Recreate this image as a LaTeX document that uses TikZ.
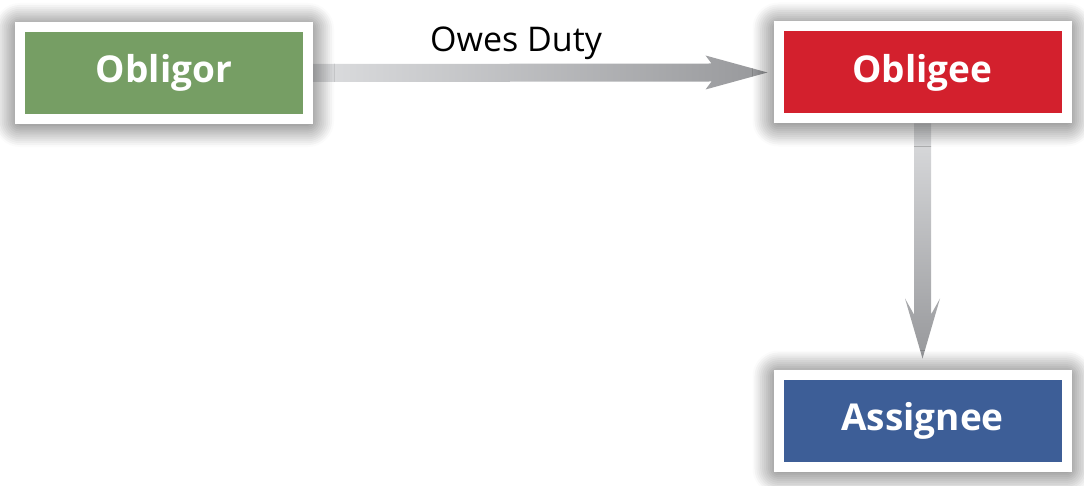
\documentclass[tikz,border=0pt]{standalone}
\usepackage{fontspec}
\setmainfont{Open Sans}
\usetikzlibrary{arrows.meta, positioning, calc, shadows.blur}
\pgfdeclarelayer{background}
\pgfsetlayers{background,main}

\definecolor{obligorgreen}{HTML}{769E64}
\definecolor{obligeered}{HTML}{D3202D}
\definecolor{assigneeblue}{HTML}{3D5E97}
\definecolor{arrowlight}{HTML}{DCDDDF}
\definecolor{arrowdark}{HTML}{97989B}

\begin{document}
\begin{tikzpicture}[
      % Node styles
      party/.style={
          rectangle, draw=white, line width=10pt,
          minimum width=288pt, minimum height=92pt, inner sep=0pt,
          text=white, font=\fontsize{37}{44}\bfseries\selectfont,
          blur shadow={shadow xshift=0pt, shadow yshift=-2pt,
                       shadow blur radius=26pt, shadow opacity=85,
                       shadow blur steps=14},
        },
      % Arrow fills
      arrow shade h/.style={left color=arrowlight, right color=arrowdark},
      arrow shade v/.style={top color=arrowlight, bottom color=arrowdark},
    ]
    \useasboundingbox (0,0) rectangle (1084pt,-486pt);

    \node[party, fill=obligorgreen] (obligor) at (164pt,-73pt) {Obligor};
    \node[party, fill=obligeered] (obligee) at (922.5pt,-72.5pt) {Obligee};
    \node[party, fill=assigneeblue] (assignee) at (922.5pt,-420.5pt) {Assignee};

    % --- Arrows, kept under the shadows ---
    \begin{pgfonlayer}{background}
      \shade[arrow shade h]
        ([yshift=9pt]obligor.east)
        -- ([xshift=-62pt,yshift=9pt]obligee.west)
        -- ([xshift=-68pt,yshift=17pt]obligee.west)
        -- ([xshift=-6pt]obligee.west)
        -- ([xshift=-68pt,yshift=-17pt]obligee.west)
        -- ([xshift=-62pt,yshift=-9pt]obligee.west)
        -- ([yshift=-9pt]obligor.east) -- cycle;
      \shade[arrow shade v]
        ([xshift=-8.5pt]obligee.south)
        -- ([xshift=-8.5pt,yshift=55pt]assignee.north)
        -- ([xshift=-17.5pt,yshift=71pt]assignee.north)
        -- ([yshift=11pt]assignee.north)
        -- ([xshift=17.5pt,yshift=71pt]assignee.north)
        -- ([xshift=8.5pt,yshift=55pt]assignee.north)
        -- ([xshift=8.5pt]obligee.south) -- cycle;
    \end{pgfonlayer}

    % --- Label ---
    \node[anchor=base, font=\fontsize{34}{40}\selectfont] (duty) at (516pt,-52pt) {Owes Duty};

\end{tikzpicture}
\end{document}
